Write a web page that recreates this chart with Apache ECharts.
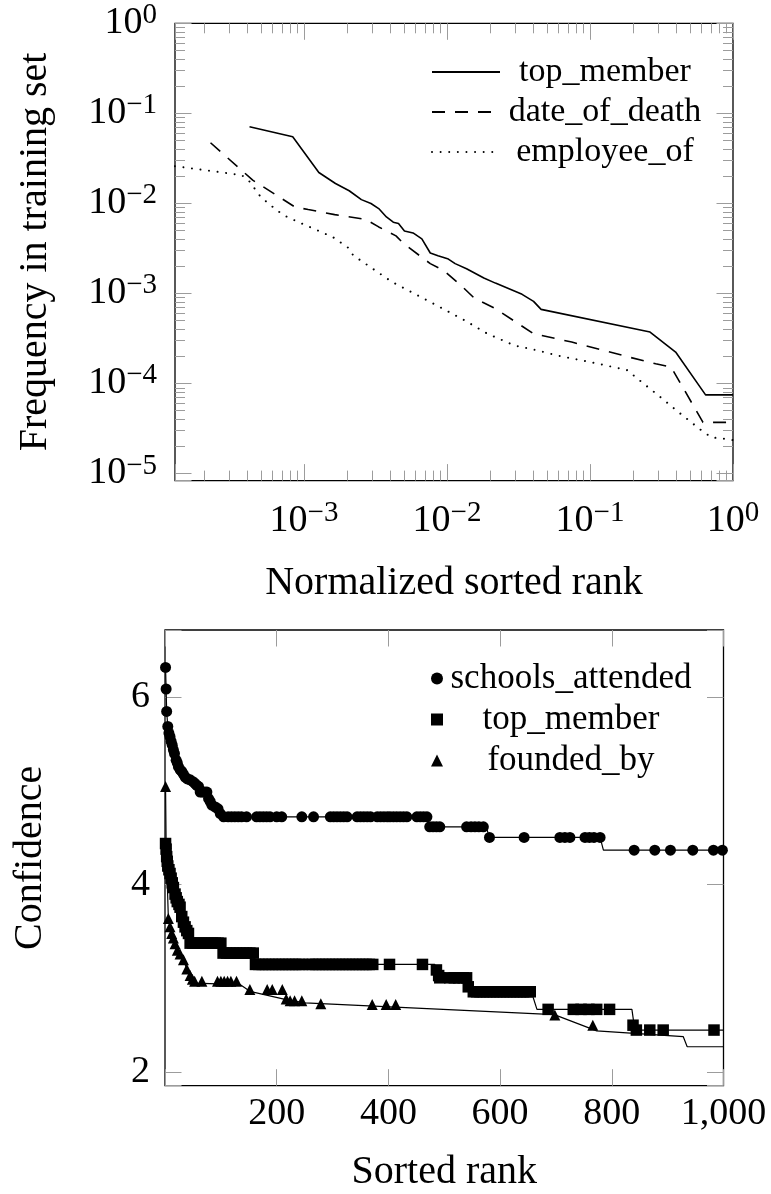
<!DOCTYPE html>
<html><head><meta charset="utf-8">
<script src="https://cdn.jsdelivr.net/npm/echarts@6/dist/echarts.min.js"></script>
<style>html,body{margin:0;padding:0;background:#fff}#c{width:771px;height:1194px}</style>
</head><body><div id="c"></div>
<script>
// ---------------- data: top chart (log-log) ----------------
const topMemberFreq = [[4.16e-4,0.0710],[8.34e-4,0.0548],[1.27e-3,0.0220],[1.66e-3,0.0166],[2.07e-3,0.0138],[2.52e-3,0.0110],[2.94e-3,0.00995],[3.33e-3,0.00875],[3.77e-3,0.00706],[4.21e-3,0.00617],[4.58e-3,0.00596],[5.04e-3,0.00494],[5.79e-3,0.00469],[6.67e-3,0.00403],[7.64e-3,0.00281],[8.65e-3,0.00262],[1.01e-2,0.00243],[1.14e-2,0.00214],[1.37e-2,0.00188],[1.81e-2,0.00148],[2.18e-2,0.00130],[3.35e-2,9.75e-4],[4.03e-2,8.15e-4],[4.55e-2,6.64e-4],[0.263,3.72e-4],[0.397,2.23e-4],[0.643,7.46e-5],[1,7.46e-5]];
const dateOfDeathFreq = [[2.22e-4,0.0471],[4.38e-4,0.0181],[8.61e-4,0.00914],[1.07e-3,0.00853],[1.64e-3,0.00750],[2.69e-3,0.00665],[3.33e-3,0.00547],[4.40e-3,0.00435],[4.97e-3,0.00357],[7.64e-3,0.00214],[9.48e-3,0.00180],[1.25e-2,0.00123],[1.55e-2,8.87e-4],[2.18e-2,6.76e-4],[4.03e-2,3.56e-4],[7.45e-2,2.88e-4],[0.1875,1.96e-4],[0.288,1.65e-4],[0.369,1.52e-4],[0.617,3.69e-5],[1,3.69e-5]];
const employeeOfFreq = [[1.25e-4,0.0259],[3.66e-4,0.0206],[4.08e-4,0.0182],[4.92e-4,0.0121],[5.62e-4,0.0100],[7.16e-4,0.00741],[9.38e-4,0.00608],[1.23e-3,0.00505],[1.60e-3,0.00419],[2.04e-3,0.00321],[2.21e-3,0.00264],[4.13e-3,0.00134],[7.64e-3,8.02e-4],[1.33e-2,5.01e-4],[1.92e-2,3.56e-4],[2.96e-2,2.64e-4],[4.29e-2,2.32e-4],[6.17e-2,2.01e-4],[0.101,1.72e-4],[0.181,1.41e-4],[0.236,1.00e-4],[0.309,7.10e-5],[0.426,4.65e-5],[0.619,2.90e-5],[0.710,2.51e-5],[0.953,2.39e-5],[1,2.34e-5]];
const rankDecades = [-3,-2,-1,0];
const freqDecades = [-5,-4,-3,-2,-1,0];
const minorMantissas = [2,3,4,5,6,7,8,9];
const topLegendNames = ['top_member','date_of_death','employee_of'];

// ---------------- data: bottom chart (confidence) ----------------
const schoolsLine = [[1,6.32],[2,6.09],[3,5.85],[5,5.69],[9,5.58],[13,5.49],[17,5.40],[20,5.33],[24,5.26],[30,5.21],[36,5.15],[45,5.12],[54,5.08],[60,5.05],[63,4.99],[75,4.99],[78,4.92],[84,4.85],[95,4.81],[99,4.76],[105,4.725],[469,4.725],[474,4.618],[575,4.618],[581,4.505],[779,4.505],[785,4.369],[1000,4.369]];
const schoolsMarks = [[1,6.32],[2,6.09],[3,5.85],[5,5.69],[7,5.62],[9,5.58],[11,5.53],[13,5.49],[15,5.44],[17,5.40],[20,5.33],[22,5.30],[24,5.26],[27,5.23],[30,5.21],[33,5.18],[36,5.15],[40,5.13],[45,5.12],[50,5.10],[54,5.08],[57,5.06],[60,5.05],[63,4.99],[67,4.99],[71,4.99],[75,4.99],[78,4.92],[81,4.89],[84,4.85],[90,4.83],[95,4.81],[99,4.76],[105,4.725],[113,4.725],[119,4.725],[125,4.725],[131,4.725],[137,4.725],[146,4.725],[164,4.725],[170,4.725],[176,4.725],[182,4.725],[188,4.725],[200,4.725],[209,4.725],[245,4.725],[266,4.725],[296,4.725],[302,4.725],[308,4.725],[314,4.725],[320,4.725],[326,4.725],[344,4.725],[350,4.725],[356,4.725],[362,4.725],[368,4.725],[380,4.725],[386,4.725],[392,4.725],[398,4.725],[403,4.725],[409,4.725],[415,4.725],[421,4.725],[427,4.725],[433,4.725],[451,4.725],[457,4.725],[463,4.725],[469,4.725],[474,4.618],[480,4.618],[486,4.618],[492,4.618],[540,4.618],[548,4.618],[555,4.618],[562,4.618],[570,4.618],[581,4.505],[643,4.505],[707,4.505],[716,4.505],[725,4.505],[752,4.505],[760,4.505],[768,4.505],[779,4.505],[840,4.369],[877,4.369],[905,4.369],[945,4.369],[982,4.369],[998,4.369]];
const topMemberLine = [[1,4.44],[3,4.30],[5,4.20],[9,4.12],[13,4.02],[18,3.90],[22,3.82],[27,3.76],[30,3.66],[36,3.55],[42,3.48],[45,3.376],[101,3.376],[104,3.27],[159,3.27],[162,3.149],[483,3.149],[486,3.09],[492,3.006],[540,3.006],[543,2.91],[552,2.857],[656,2.857],[666,2.669],[836,2.669],[840,2.50],[845,2.448],[1000,2.448]];
const topMemberMarks = [[1,4.44],[2,4.38],[3,4.30],[4,4.25],[5,4.20],[7,4.16],[9,4.12],[11,4.07],[13,4.02],[15,3.97],[18,3.90],[20,3.86],[22,3.82],[25,3.79],[27,3.76],[30,3.66],[33,3.60],[36,3.55],[39,3.51],[42,3.48],[45,3.376],[50,3.376],[55,3.376],[60,3.376],[65,3.376],[70,3.376],[75,3.376],[80,3.376],[85,3.376],[90,3.376],[95,3.376],[100,3.376],[104,3.27],[110,3.27],[116,3.27],[122,3.27],[128,3.27],[134,3.27],[140,3.27],[146,3.27],[152,3.27],[158,3.27],[162,3.149],[168,3.149],[174,3.149],[180,3.149],[186,3.149],[192,3.149],[198,3.149],[204,3.149],[210,3.149],[216,3.149],[222,3.149],[228,3.149],[234,3.149],[240,3.149],[246,3.149],[258,3.149],[264,3.149],[270,3.149],[276,3.149],[282,3.149],[288,3.149],[294,3.149],[300,3.149],[306,3.149],[312,3.149],[318,3.149],[324,3.149],[330,3.149],[336,3.149],[342,3.149],[348,3.149],[354,3.149],[360,3.149],[366,3.149],[372,3.149],[402,3.149],[461,3.149],[486,3.09],[490,3.03],[492,3.006],[510,3.006],[518,3.006],[526,3.006],[534,3.006],[540,3.006],[543,2.91],[552,2.857],[558,2.857],[564,2.857],[570,2.857],[576,2.857],[582,2.857],[588,2.857],[594,2.857],[600,2.857],[606,2.857],[612,2.857],[618,2.857],[624,2.857],[630,2.857],[636,2.857],[642,2.857],[648,2.857],[654,2.857],[686,2.669],[731,2.669],[745,2.669],[759,2.669],[773,2.669],[796,2.669],[838,2.50],[844,2.448],[868,2.448],[892,2.448],[983,2.448]];
const foundedLine = [[1,5.05],[2,4.44],[6,3.64],[9,3.55],[12,3.48],[15,3.43],[18,3.37],[22,3.30],[27,3.26],[33,3.20],[39,3.10],[45,3.03],[49,2.99],[53,2.95],[135,2.933],[152,2.862],[217,2.773],[251,2.738],[697,2.613],[773,2.44],[928,2.377],[935,2.27],[1000,2.27]];
const foundedMarks = [[1,5.05],[2,4.44],[6,3.64],[9,3.55],[12,3.48],[15,3.43],[18,3.37],[22,3.30],[27,3.26],[33,3.20],[39,3.10],[45,3.03],[49,2.99],[53,2.97],[66,2.97],[94,2.97],[100,2.97],[106,2.97],[112,2.97],[118,2.97],[128,2.97],[152,2.88],[183,2.88],[192,2.88],[210,2.88],[217,2.78],[224,2.76],[232,2.76],[245,2.76],[279,2.73],[371,2.72],[396,2.72],[413,2.72],[698,2.61],[766,2.50]];
const rankTicks = [200,400,600,800,1000];
const confTicks = [2,4,6];
const bottomLegend = [['schools_attended','schools_attended'],['top_member (confidence)','top_member'],['founded_by','founded_by']];

// ---------------- rendering ----------------
const FONT = '"Liberation Serif","Times New Roman",Times,serif';
const TICK = '#9c9c9c';
const X1MIN = 1.253e-4, X1MAX = 1, Y1MIN = 8.32e-6, Y1MAX = 1;
const MAJOR = 16.5, MINOR = 10;

function powLabel(v, list) {
  const n = Math.log10(v), r = Math.round(n);
  if (Math.abs(n - r) > 1e-6 || list.indexOf(r) < 0) return '';
  return '{b|10}{s|' + (r < 0 ? '\u2212' + (-r) : String(r)) + '}';
}
const supRich = {
  b: {fontFamily: FONT, fontSize: 38, lineHeight: 44, color: '#000'},
  s: {fontFamily: FONT, fontSize: 29, lineHeight: 27, verticalAlign: 'top', color: '#000'}
};

const minorTickData = [];
for (let e = -5; e <= -1; e++) for (const m of minorMantissas) {
  const v = m * Math.pow(10, e);
  if (v > X1MIN && v < X1MAX) minorTickData.push([v, Y1MIN, 0]);
  if (v > Y1MIN && v < Y1MAX) minorTickData.push([X1MIN, v, 1]);
}

const tickStyle = {inside: true, length: MAJOR, lineStyle: {color: TICK, width: 1}};
const noLine = {show: false, onZero: false};
const nameStyle = {fontFamily: FONT, fontSize: 40, color: '#000'};

const lineLegendMap = {};
bottomLegend.forEach(p => { lineLegendMap[p[0]] = p[1]; });

const option = {
  animation: false,
  backgroundColor: '#fff',
  grid: [
    {left: 175, top: 23.3, width: 558, height: 457.3, show: true, borderColor: '#000', borderWidth: 1.3, outerBoundsMode: 'none'},
    {left: 165, top: 630, width: 558.5, height: 455.7, show: true, borderColor: '#000', borderWidth: 1.3, outerBoundsMode: 'none'}
  ],
  xAxis: [
    {gridIndex: 0, type: 'log', logBase: 10, min: X1MIN, max: X1MAX, position: 'bottom',
     axisLine: noLine, axisTick: tickStyle, splitLine: {show: false},
     axisLabel: {formatter: v => powLabel(v, rankDecades), rich: supRich, margin: 18, showMinLabel: true, showMaxLabel: true},
     name: 'Normalized sorted rank', nameLocation: 'middle', nameGap: 83, nameTextStyle: nameStyle},
    {gridIndex: 0, type: 'log', logBase: 10, min: X1MIN, max: X1MAX, position: 'top',
     axisLine: noLine, axisTick: tickStyle, splitLine: {show: false}, axisLabel: {show: false}},
    {gridIndex: 1, type: 'value', min: 0, max: 1000, splitNumber: 5, position: 'bottom',
     axisLine: noLine, axisTick: tickStyle, splitLine: {show: false},
     axisLabel: {formatter: v => rankTicks.indexOf(v) >= 0 ? v.toLocaleString('en-US') : '',
                 fontFamily: FONT, fontSize: 38, color: '#000', margin: 9, showMinLabel: true, showMaxLabel: true},
     name: 'Sorted rank', nameLocation: 'middle', nameGap: 67, nameTextStyle: nameStyle},
    {gridIndex: 1, type: 'value', min: 0, max: 1000, splitNumber: 5, position: 'top',
     axisLine: noLine, axisTick: tickStyle, splitLine: {show: false}, axisLabel: {show: false}}
  ],
  yAxis: [
    {gridIndex: 0, type: 'log', logBase: 10, min: Y1MIN, max: Y1MAX, position: 'left',
     axisLine: noLine, axisTick: tickStyle, splitLine: {show: false},
     axisLabel: {formatter: v => powLabel(v, freqDecades), rich: supRich, margin: 18, showMinLabel: true, showMaxLabel: true},
     name: 'Frequency in training set', nameLocation: 'middle', nameRotate: 90, nameGap: 120, nameTextStyle: nameStyle},
    {gridIndex: 0, type: 'log', logBase: 10, min: Y1MIN, max: Y1MAX, position: 'right',
     axisLine: noLine, axisTick: tickStyle, splitLine: {show: false}, axisLabel: {show: false}},
    {gridIndex: 1, type: 'value', min: 1.854, max: 6.72, splitNumber: 2, position: 'left',
     axisLine: noLine, axisTick: tickStyle, splitLine: {show: false},
     axisLabel: {formatter: v => confTicks.indexOf(v) >= 0 ? String(v) : '',
                 fontFamily: FONT, fontSize: 38, color: '#000', margin: 15, showMinLabel: true, showMaxLabel: true},
     name: 'Confidence', nameLocation: 'middle', nameRotate: 90, nameGap: 115, nameTextStyle: nameStyle},
    {gridIndex: 1, type: 'value', min: 1.854, max: 6.72, splitNumber: 2, position: 'right',
     axisLine: noLine, axisTick: tickStyle, splitLine: {show: false}, axisLabel: {show: false}}
  ],
  legend: [
    {data: topLegendNames, orient: 'vertical', left: 426, top: 50, itemWidth: 68, itemHeight: 16, itemGap: 6,
     selectedMode: false, formatter: n => '{t|' + n + '}', itemStyle: {opacity: 0},
     textStyle: {rich: {t: {fontFamily: FONT, fontSize: 34, lineHeight: 40, width: 200, align: 'center', color: '#000'}}}},
    {data: bottomLegend.map(p => p[0]), orient: 'vertical', left: 426, top: 656, itemWidth: 12, itemHeight: 12, itemGap: 6,
     selectedMode: false, formatter: n => '{t|' + lineLegendMap[n] + '}', itemStyle: {opacity: 1},
     textStyle: {rich: {t: {fontFamily: FONT, fontSize: 35, lineHeight: 40, width: 246, align: 'center', color: '#000'}}}}
  ],
  series: [
    {type: 'custom', name: 'minor ticks', xAxisIndex: 0, yAxisIndex: 0, silent: true, clip: false, z: 1,
     encode: {x: 0, y: 1}, data: minorTickData,
     renderItem: function (params, api) {
       const kind = api.value(2);
       const st = {stroke: TICK, lineWidth: 1};
       if (kind === 0) {
         const v = api.value(0);
         const b = api.coord([v, Y1MIN]), t = api.coord([v, Y1MAX]);
         const x = Math.round(b[0]) + 0.5;
         return {type: 'group', children: [
           {type: 'line', shape: {x1: x, y1: b[1], x2: x, y2: b[1] - MINOR}, style: st},
           {type: 'line', shape: {x1: x, y1: t[1], x2: x, y2: t[1] + MINOR}, style: st}]};
       } else {
         const v = api.value(1);
         const l = api.coord([X1MIN, v]), r = api.coord([X1MAX, v]);
         const y = Math.round(l[1]) + 0.5;
         return {type: 'group', children: [
           {type: 'line', shape: {x1: l[0], y1: y, x2: l[0] + MINOR, y2: y}, style: st},
           {type: 'line', shape: {x1: r[0], y1: y, x2: r[0] - MINOR, y2: y}, style: st}]};
       }
     }},
    {type: 'line', name: 'top_member', xAxisIndex: 0, yAxisIndex: 0, data: topMemberFreq, symbol: 'none', showSymbol: false,
     color: '#000', lineStyle: {color: '#000', width: 1.6, type: 'solid'}, z: 3},
    {type: 'line', name: 'date_of_death', xAxisIndex: 0, yAxisIndex: 0, data: dateOfDeathFreq, symbol: 'none', showSymbol: false,
     color: '#000', lineStyle: {color: '#000', width: 1.6, type: [13, 10]}, z: 3},
    {type: 'line', name: 'employee_of', xAxisIndex: 0, yAxisIndex: 0, data: employeeOfFreq, symbol: 'none', showSymbol: false,
     color: '#000', lineStyle: {color: '#000', width: 2, type: [0.01, 8.6], cap: 'round'}, z: 3},

    {type: 'line', name: 'schools_attended curve', xAxisIndex: 2, yAxisIndex: 2, data: schoolsLine, symbol: 'none', showSymbol: false,
     color: '#000', lineStyle: {color: '#000', width: 1.2}, z: 3},
    {type: 'line', name: 'top_member curve', xAxisIndex: 2, yAxisIndex: 2, data: topMemberLine, symbol: 'none', showSymbol: false,
     color: '#000', lineStyle: {color: '#000', width: 1.2}, z: 3},
    {type: 'line', name: 'founded_by curve', xAxisIndex: 2, yAxisIndex: 2, data: foundedLine, symbol: 'none', showSymbol: false,
     color: '#000', lineStyle: {color: '#000', width: 1.2}, z: 3},
    {type: 'scatter', name: 'schools_attended', xAxisIndex: 2, yAxisIndex: 2, data: schoolsMarks, symbol: 'circle', symbolSize: 11,
     color: '#000', itemStyle: {color: '#000', opacity: 1}, z: 4},
    {type: 'scatter', name: 'top_member (confidence)', xAxisIndex: 2, yAxisIndex: 2, data: topMemberMarks, symbol: 'rect', symbolSize: 11.5,
     color: '#000', itemStyle: {color: '#000', opacity: 1}, z: 4},
    {type: 'scatter', name: 'founded_by', xAxisIndex: 2, yAxisIndex: 2, data: foundedMarks, symbol: 'triangle', symbolSize: 11,
     color: '#000', itemStyle: {color: '#000', opacity: 1}, z: 4}
  ]
};

const chart = echarts.init(document.getElementById('c'), null, {renderer: 'canvas'});
chart.setOption(option);
</script>
</body></html>
